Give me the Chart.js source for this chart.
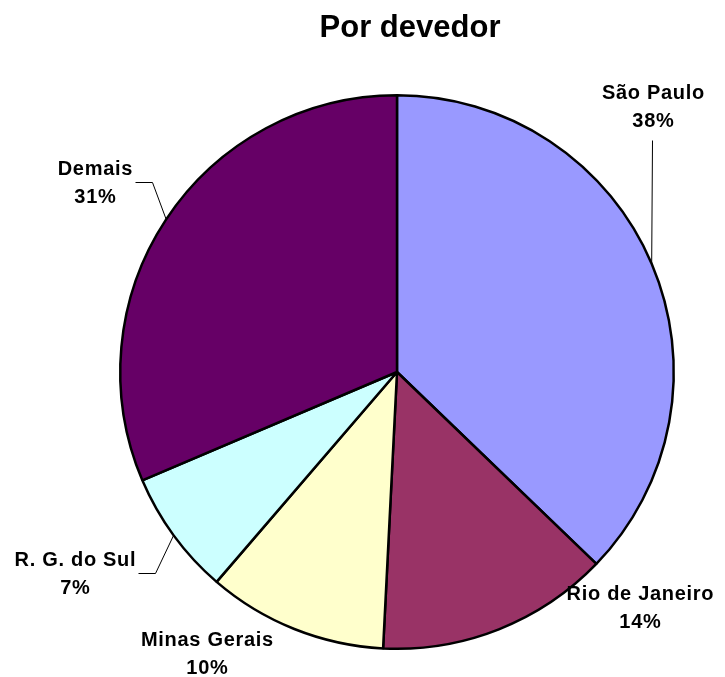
<!DOCTYPE html>
<html>
<head>
<meta charset="utf-8">
<script src="https://cdn.jsdelivr.net/npm/chart.js@4"></script>
<style>
  html, body { margin: 0; padding: 0; background: #fff; }
  #wrap { width: 725px; height: 677px; }
</style>
</head>
<body>
<div id="wrap"><canvas id="pieChart"></canvas></div>
<script>
var categories = ["São Paulo", "Rio de Janeiro", "Minas Gerais", "R. G. do Sul", "Demais"];
var shares = [37.2, 13.6, 10.5, 7.3, 31.4];
// percentages as printed on the labels
var shareLabels = ["38%", "14%", "10%", "7%", "31%"];
var sliceColors = ["#9999FF", "#993366", "#FFFFCC", "#CCFFFF", "#660066"];

// label placement, as offsets from the pie centre (first line baseline)
var labelOffsets = [[256, -273], [243, 228], [-190, 274], [-322, 194], [-302, -197]];
// leader elbows (null = no leader line)
var leaderElbows = [[[255, -232]], null, null, [[-242, 201], [-259, 201]], [[-245, -190], [-262, -190]]];

var labelPlugin = {
    id: 'pieLabels',
    afterDraw: function (chart) {
        var ctx = chart.ctx;
        var meta = chart.getDatasetMeta(0);
        var cx = meta.data[0].x, cy = meta.data[0].y;

        ctx.save();
        ctx.fillStyle = "#000";
        ctx.textAlign = "center";
        ctx.textBaseline = "alphabetic";
        ctx.font = "bold 31px 'Liberation Sans', Arial, sans-serif";
        ctx.fillText("Por devedor", 410, 37);

        meta.data.forEach(function (arc, i) {
            var mid = (arc.startAngle + arc.endAngle) / 2;
            var r = arc.outerRadius;
            if (leaderElbows[i]) {
                ctx.strokeStyle = "#000";
                ctx.lineWidth = 1;
                ctx.beginPath();
                ctx.moveTo(cx + Math.cos(mid) * r, cy + Math.sin(mid) * r);
                leaderElbows[i].forEach(function (p) {
                    ctx.lineTo(cx + p[0] + 0.5, cy + p[1] + 0.5);
                });
                ctx.stroke();
            }
            var lx = cx + labelOffsets[i][0], ly = cy + labelOffsets[i][1];
            ctx.font = "bold 20px 'Liberation Sans', Arial, sans-serif";
            ctx.letterSpacing = "0.7px";
            ctx.fillText(categories[i], lx + 0.4, ly);
            ctx.fillText(shareLabels[i], lx + 0.4, ly + 28);
            ctx.letterSpacing = "0px";
        });
        ctx.restore();
    }
};

var chartElement = document.getElementById("pieChart").getContext('2d');
var chartObject = new Chart(chartElement, {
    type: 'pie',
    data: {
        labels: categories,
        datasets: [{
            data: shares,
            backgroundColor: sliceColors,
            borderColor: "#000",
            borderWidth: 2.5
        }]
    },
    options: {
        responsive: true,
        maintainAspectRatio: false,
        animation: false,
        layout: {
            padding: { left: 119, right: 50, top: 94, bottom: 27 }
        },
        plugins: {
            legend: { display: false },
            tooltip: { enabled: false }
        }
    },
    plugins: [labelPlugin]
});
</script>
</body>
</html>
